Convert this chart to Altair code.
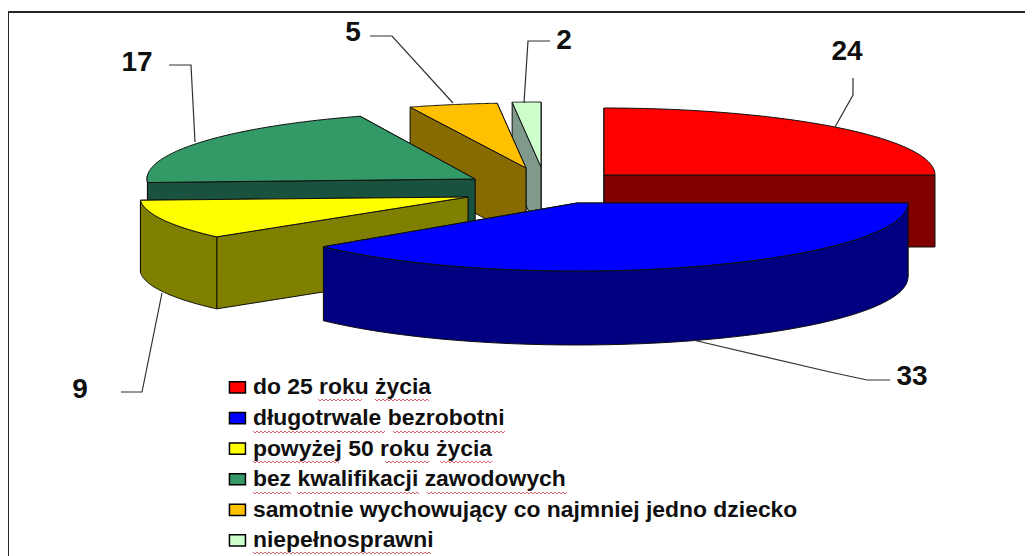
import numpy as np
import altair as alt

# ---- data
categories = ["do 25 roku życia", "długotrwale bezrobotni", "powyżej 50 roku życia",
              "bez kwalifikacji zawodowych", "samotnie wychowujący co najmniej jedno dziecko",
              "niepełnosprawni"]
values = [24, 33, 9, 17, 5, 2]
top_colors = ["#FF0000", "#0000FF", "#FFFF00", "#339966", "#FFC000", "#CCFFCC"]
side_colors = ["#800000", "#000080", "#808000", "#1A5240", "#876A00", "#7F9A8A"]

# ---- drawing set-up (pie look: exploded, tilted, perspective)
apex = [(604, 175), (577, 203), (468, 197), (475, 179), (526, 168), (541, 167)]
ry = [67, 68, 62, 67, 65, 65]
rx = [331, 331, 328, 328, 331, 331]
depth = [72, 74, 72, 72, 72, 72]
draw_order = [5, 4, 3, 2, 0, 1]
warp_true = [0, 96, 228, 264, 332, 352, 360]
warp_seen = [0, 90, 230, 267, 339.5, 355, 360]

leaders = [
    [(853, 78), (853, 95), (835, 127)],
    [(693, 340), (830, 372), (867, 380), (890, 380)],
    [(121, 392), (142, 392), (162, 293)],
    [(169, 65), (191, 65), (195, 142)],
    [(370, 36), (392, 36), (453, 103)],
    [(550, 41), (528, 41), (524, 103)],
]
label_pos = [(847, 52), (912, 377), (80, 390), (137, 63), (353, 33), (564, 41)]
frame = [[(8, 556), (8, 12), (1033, 12)]]
squiggle_spans = [
    (399, 318, 363), (399, 375, 430),
    (431, 253, 385), (431, 393, 505),
    (461, 253, 340), (461, 385, 430), (461, 440, 492),
    (492, 253, 292), (492, 297, 420), (492, 427, 567),
    (552, 253, 432),
]


def rim(i, a):
    """Rim point of slice i at pie angle a (degrees, clockwise from 12 o'clock)."""
    v = np.radians(np.interp(a, warp_true, warp_seen))
    return apex[i][0] + rx[i] * np.sin(v), apex[i][1] - ry[i] * np.cos(v)


def poly(key, pts):
    pts = [[float(x), float(y)] for x, y in pts]
    pts = pts + [pts[0]]
    return {"type": "Feature", "properties": {"key": key},
            "geometry": {"type": "Polygon", "coordinates": [pts]}}


def lines(paths):
    return [{"type": "Feature", "properties": {"key": "line"},
             "geometry": {"type": "LineString",
                          "coordinates": [[float(x), float(y)] for x, y in p]}} for p in paths]


total = sum(values)
edges = np.concatenate([[0], np.cumsum(values)]) * 360 / total

features = []
for i in draw_order:
    cat = categories[i]
    side = cat + " (bok)"
    a0, a1 = edges[i], edges[i + 1]
    ax, ay = apex[i]
    d = depth[i]
    # cut faces: the one further back first
    faces = sorted([a0, a1], key=lambda a: rim(i, a)[1])
    for a in faces:
        x, y = rim(i, a)
        features.append(poly(side, [(x, y), (ax, ay), (ax, ay + d), (x, y + d)]))
    # outer wall: only the front half of the rim shows
    s0 = max(a0, 96 if a0 < 264 else 264)
    s1 = min(a1, 270)
    if s1 > s0:
        arc = [rim(i, a) for a in np.linspace(s0, s1, 60)]
        features.append(poly(side, arc + [(x, y + d) for x, y in arc[::-1]]))
    # top face
    arc = [rim(i, a) for a in np.linspace(a0, a1, 80)]
    features.append(poly(cat, [(ax, ay)] + arc))

domain = categories + [c + " (bok)" for c in categories]
palette = top_colors + side_colors

pie = alt.Chart(alt.Data(values=features)).mark_geoshape(
    stroke="#101010", strokeWidth=1, strokeJoin="round"
).encode(
    fill=alt.Fill(
        "properties.key:N",
        scale=alt.Scale(domain=domain, range=palette),
        legend=alt.Legend(
            values=categories, title=None, orient="none", legendX=218, legendY=368,
            symbolType="M-1,-0.7H1V0.7H-1Z", symbolSize=256, symbolStrokeColor="#000000",
            symbolStrokeWidth=1.5, symbolOpacity=1,
            labelFont="Liberation Sans", labelFontWeight="bold", labelFontSize=22.9,
            labelColor="#101010", labelLimit=0, labelOffset=4, rowPadding=6.6, padding=0,
        ),
    )
)

leader_layer = alt.Chart(alt.Data(values=lines(leaders))).mark_geoshape(
    filled=False, stroke="#303030", strokeWidth=1.2
)
frame_layer = alt.Chart(alt.Data(values=lines(frame))).mark_geoshape(
    filled=False, stroke="#262626", strokeWidth=2
)

zig = []
for y, x0, x1 in squiggle_spans:
    xs = np.arange(x0, x1 + 0.1, 2.0)
    zig.append([(x, y + (k % 2) * 2) for k, x in enumerate(xs)])
squiggle_layer = alt.Chart(alt.Data(values=lines(zig))).mark_geoshape(
    filled=False, stroke="#D8505A", strokeWidth=0.9
)

text_rows = [{"v": str(v), "lon": p[0], "lat": p[1]} for v, p in zip(values, label_pos)]
text_layer = alt.Chart(alt.Data(values=text_rows)).mark_text(
    font="Liberation Sans", fontWeight="bold", fontSize=28, color="#101010",
    align="center", baseline="middle"
).encode(longitude="lon:Q", latitude="lat:Q", text="v:N")

chart = alt.layer(
    frame_layer, pie, leader_layer, squiggle_layer, text_layer,
).project(type="identity", scale=1, translate=[-8, -8]).properties(
    width=1017, height=548, padding=0,
    autosize=alt.AutoSizeParams(type="none"),
    background="#FFFFFF",
).configure_view(stroke=None)

chart.save("out.html", embed_options={"renderer": "svg", "actions": False})
